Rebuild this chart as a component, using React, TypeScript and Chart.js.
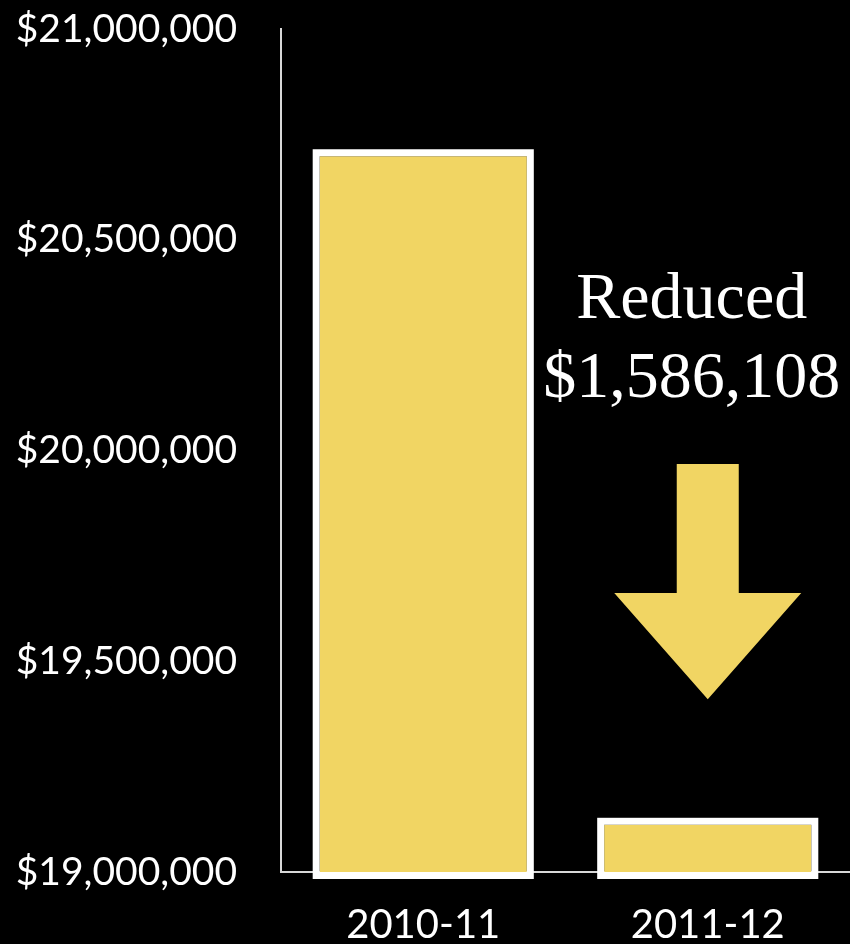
import React, { useEffect, useRef } from "react";
import { Chart, registerables } from "chart.js";

Chart.register(...registerables);

// ---- data ----
const categories = ["2010-11", "2011-12"];
const budget = [20698108, 19112000];
const yTicks = [19000000, 19500000, 20000000, 20500000, 21000000];
const annotationTitle = "Reduced";
// annotation anchors, in data units of the y axis
const arrowTopValue = 19968000;
const arrowShoulderValue = 19662000;
const arrowTipValue = 19410000;
const titleBaselineValue = 20314000;
const amountBaselineValue = 20127000;

const GOLD = "#F1D563";

const fmt = (v: number) => "$" + Math.round(v).toLocaleString("en-US");

const decorPlugin = {
  id: "decor",
  afterDatasetsDraw(chart: any) {
    const ctx = chart.ctx;
    const meta = chart.getDatasetMeta(0);
    const yS = chart.scales.y;
    const bottom = chart.chartArea.bottom;
    ctx.save();
    // white frames around bars (outside the fill)
    ctx.strokeStyle = "#ffffff";
    ctx.lineWidth = 7;
    meta.data.forEach((bar: any) => {
      const { x, y, base, width } = bar.getProps(["x", "y", "base", "width"], true);
      const b = Math.min(base, bottom);
      ctx.strokeRect(x - width / 2 - 3.5, y - 3.5, width + 7, b - y + 7);
    });
    // arrow above the second bar
    const b2 = meta.data[1];
    const cx = b2.x;
    const top = yS.getPixelForValue(arrowTopValue);
    const sh = yS.getPixelForValue(arrowShoulderValue);
    const tip = yS.getPixelForValue(arrowTipValue);
    const shaftHalf = 31;
    const headHalf = 93.5;
    ctx.fillStyle = GOLD;
    ctx.beginPath();
    ctx.moveTo(cx - shaftHalf, top);
    ctx.lineTo(cx + shaftHalf, top);
    ctx.lineTo(cx + shaftHalf, sh);
    ctx.lineTo(cx + headHalf, sh);
    ctx.lineTo(cx, tip);
    ctx.lineTo(cx - headHalf, sh);
    ctx.lineTo(cx - shaftHalf, sh);
    ctx.closePath();
    ctx.fill();
    // annotation text
    const diff = budget[0] - budget[1];
    ctx.fillStyle = "#ffffff";
    ctx.font = "66px 'Liberation Serif', 'Times New Roman', serif";
    ctx.textAlign = "center";
    ctx.textBaseline = "alphabetic";
    const tx = cx - 16;
    ctx.fillText(annotationTitle, tx, yS.getPixelForValue(titleBaselineValue));
    ctx.fillText(fmt(diff), tx, yS.getPixelForValue(amountBaselineValue));
    ctx.restore();
  },
};

export default function App() {
  const ref = useRef<HTMLCanvasElement | null>(null);

  useEffect(() => {
    if (!ref.current) return;
    const chart = new Chart(ref.current, {
      type: "bar",
      data: {
        labels: categories,
        datasets: [
          {
            data: budget,
            backgroundColor: GOLD,
            borderWidth: 0,
            barPercentage: 0.728,
            categoryPercentage: 1,
          },
        ],
      },
      options: {
        animation: false,
        responsive: false,
        devicePixelRatio: 1,
        layout: { padding: { left: 0, right: 0, top: 29, bottom: 0 } },
        plugins: {
          legend: { display: false },
          tooltip: { enabled: false },
        },
        scales: {
          x: {
            grid: { display: false, drawTicks: false },
            border: { display: true, color: "#d8d8d8", width: 2 },
            ticks: {
              color: "#ffffff",
              padding: 29,
              font: { family: "Lato", size: 40 },
            },
            afterFit: (s: any) => {
              s.height = 72;
              s.paddingLeft = 0;
              s.paddingRight = 0;
            },
          },
          y: {
            min: yTicks[0],
            max: yTicks[yTicks.length - 1],
            grid: { display: false, drawTicks: false },
            border: { display: true, color: "#d8d8d8", width: 2 },
            afterBuildTicks: (s: any) => {
              s.ticks = yTicks.map((v) => ({ value: v }));
            },
            ticks: {
              color: "#ffffff",
              padding: 44,
              font: { family: "Lato", size: 39 },
              callback: (v: any) => fmt(Number(v)),
            },
            afterFit: (s: any) => {
              s.width = 281;
              s.paddingTop = 0;
              s.paddingBottom = 0;
            },
          },
        },
      },
      plugins: [decorPlugin],
    });
    return () => chart.destroy();
  }, []);

  return (
    <div
      style={{
        position: "fixed",
        left: 0,
        top: 0,
        width: 850,
        height: 944,
        background: "#000",
        overflow: "hidden",
      }}
    >
      <canvas ref={ref} width={850} height={944} style={{ display: "block" }} />
    </div>
  );
}
